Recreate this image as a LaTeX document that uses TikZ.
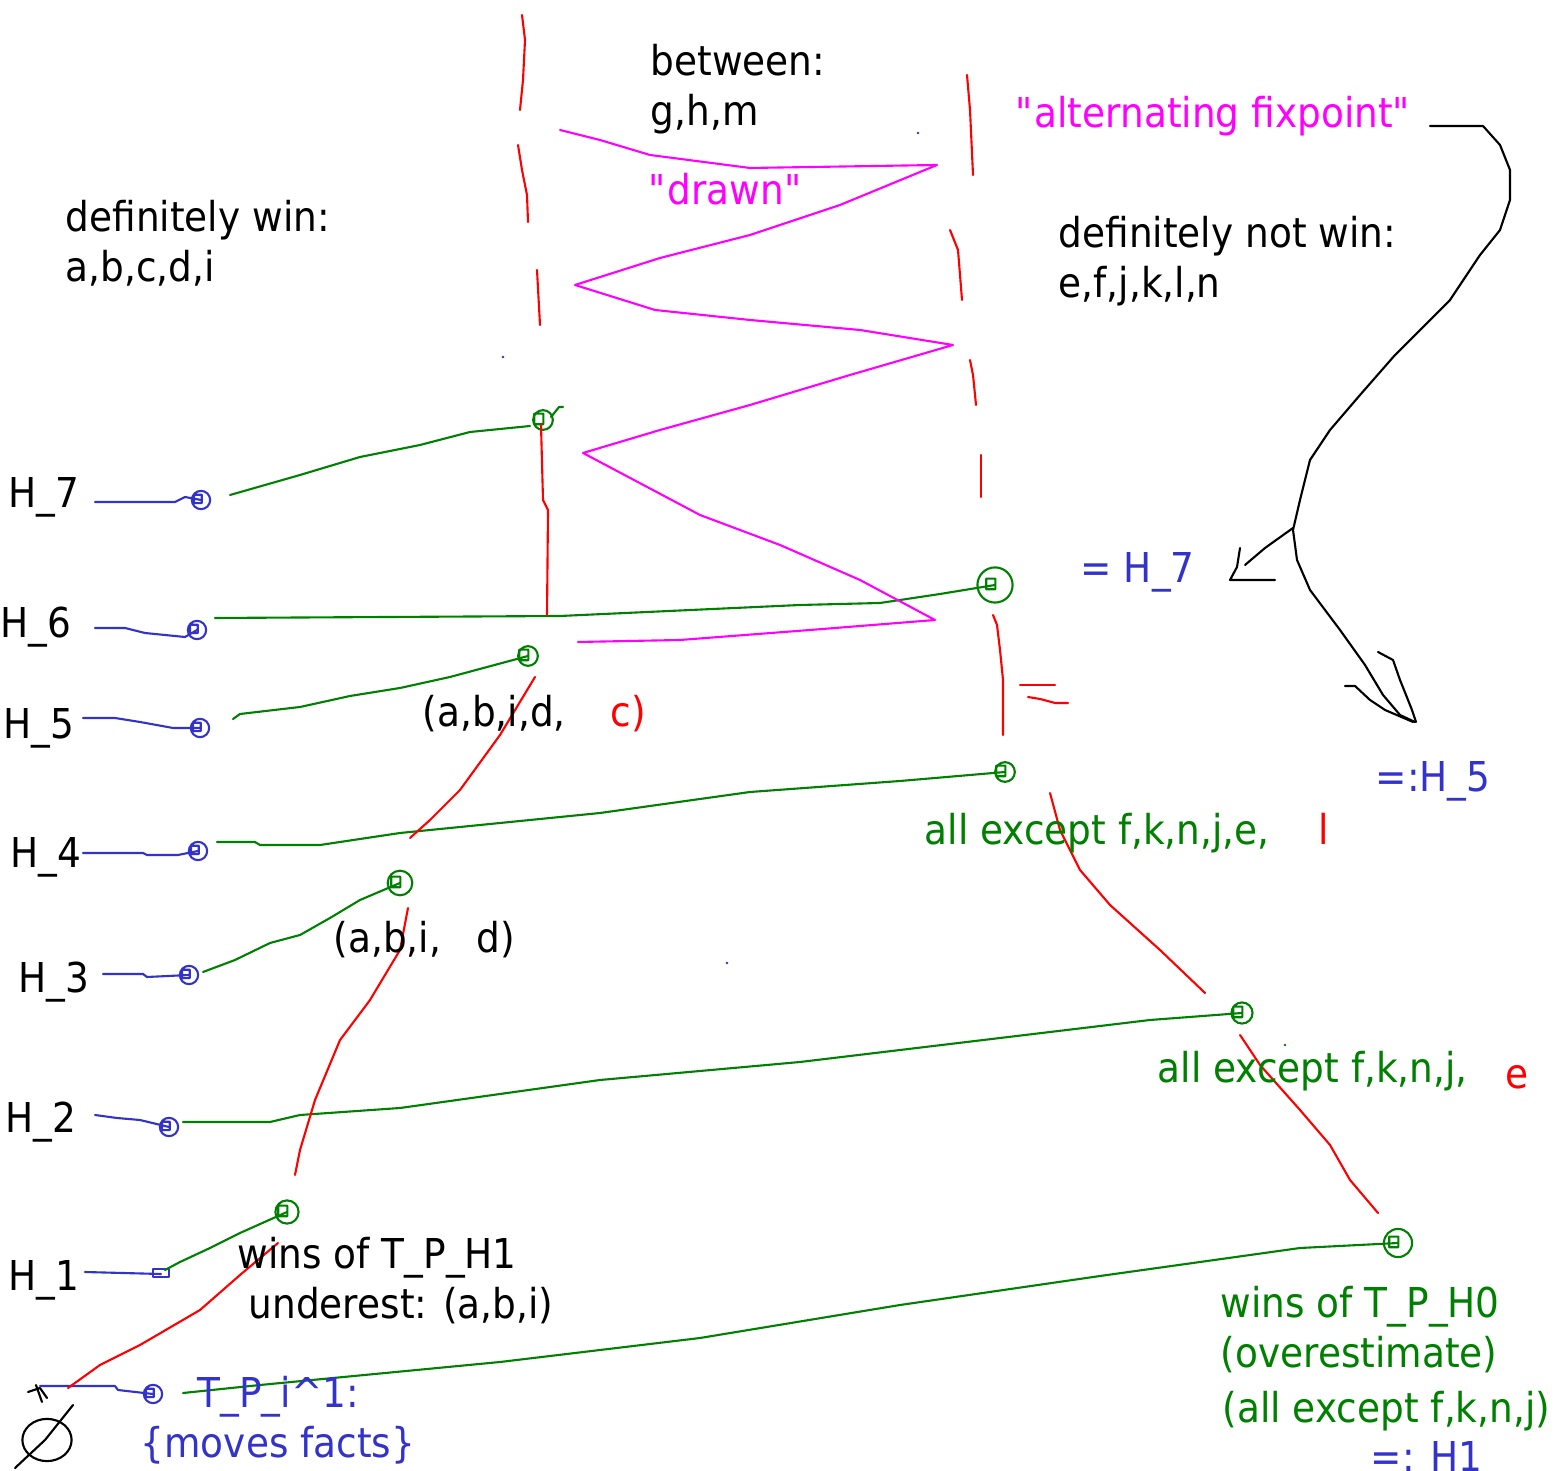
\documentclass[tikz,border=0pt]{standalone}
\usepackage{fontspec}
\setmainfont{DejaVu Sans}[FakeStretch=0.91]
\definecolor{penblue}{RGB}{51,51,204}
\definecolor{pengreen}{RGB}{0,128,0}
\definecolor{penred}{RGB}{255,0,0}
\definecolor{penpink}{RGB}{255,0,255}

\begin{document}
\begin{tikzpicture}[x=0.01cm, y=-0.01cm,
  pen/.style={line width=0.6pt, line join=round, line cap=round},
  txt/.style={anchor=base west, inner sep=0pt, font=\fontsize{11.7}{14}\selectfont}]
  \useasboundingbox (0,0) rectangle (1558,1471);

  % level labels and blue moves
  \node[txt] (h7) at (8,508) {H\_7};
  \node[txt] (h6) at (0,638) {H\_6};
  \node[txt] (h5) at (3,739) {H\_5};
  \node[txt] (h4) at (10,868) {H\_4};
  \node[txt] (h3) at (18,992) {H\_3};
  \node[txt] (h2) at (5,1132) {H\_2};
  \node[txt] (h1) at (8,1290) {H\_1};

  \coordinate (b7) at (201,500);  \coordinate (b6) at (197,630);
  \coordinate (b5) at (200,728);  \coordinate (b4) at (198,851);
  \coordinate (b3) at (189,975);  \coordinate (b2) at (169,1127);
  \coordinate (b1) at (161,1274); \coordinate (b0) at (153,1394);
  \draw[pen,penblue] (95,502) -- (175,502) -- (185,497) -- (b7);
  \draw[pen,penblue] (95,628) -- (125,628) -- (145,633) -- (185,637) -- (b6);
  \draw[pen,penblue] (83,718) -- (115,718) -- (140,722) -- (173,728) -- (b5);
  \draw[pen,penblue] (83,853) -- (143,853) -- (147,855) -- (178,855) -- (b4);
  \draw[pen,penblue] (103,974) -- (143,974) -- (147,977) -- (b3);
  \draw[pen,penblue] (95,1115) -- (117,1118) -- (140,1120) -- (b2);
  \draw[pen,penblue] (85,1272) -- (b1);
  \draw[pen,penblue] (40,1386) -- (115,1386) -- (118,1390) -- (b0);
  \foreach \b in {b7,b6,b5,b4,b3,b2,b0}
    \draw[pen,penblue] (\b) circle (2.6pt) ++(-2pt,1.5pt) rectangle ++(2.2pt,-2.4pt);
  \draw[pen,penblue] (b1) ++(-8,3) rectangle ++(16,-8);

  % green links between the steps
  \coordinate (g7) at (543,420);  \coordinate (g6) at (995,585);
  \coordinate (g5) at (528,656);  \coordinate (g4) at (1005,772);
  \coordinate (g3) at (400,883);  \coordinate (g2) at (1242,1013);
  \coordinate (g1) at (287,1212); \coordinate (g0) at (1398,1243);
  \draw[pen,pengreen] (230,495) -- (300,475) -- (360,457) -- (420,445) -- (470,432) -- (530,426);
  \draw[pen,pengreen] (215,618) -- (560,616) -- (800,605) -- (880,603) -- (940,594) -- (g6);
  \draw[pen,pengreen] (233,719) -- (240,714) -- (300,707) -- (350,696) -- (400,688) -- (450,677) -- (g5);
  \draw[pen,pengreen] (217,842) -- (255,842) -- (260,845) -- (320,845) -- (400,833) -- (600,813) -- (750,792) -- (900,781) -- (g4);
  \draw[pen,pengreen] (203,972) -- (235,960) -- (270,943) -- (300,935) -- (330,918) -- (360,900) -- (g3);
  \draw[pen,pengreen] (183,1122) -- (270,1122) -- (300,1115) -- (400,1108) -- (600,1080) -- (800,1062) -- (1000,1038) -- (1150,1020) -- (g2);
  \draw[pen,pengreen] (165,1270) -- (180,1262) -- (210,1248) -- (240,1233) -- (g1);
  \draw[pen,pengreen] (183,1393) -- (260,1385) -- (500,1362) -- (700,1338) -- (900,1305) -- (1100,1276) -- (1300,1248) -- (g0);
  \foreach \g/\r in {g7/2.8pt,g6/5pt,g5/2.8pt,g4/2.8pt,g3/3.5pt,g2/3pt,g1/3.3pt,g0/4pt}
    \draw[pen,pengreen] (\g) circle (\r) ++(-2.5pt,1.8pt) rectangle ++(2.6pt,-3pt);
  \draw[pen,pengreen] (g7) ++(8,-3) -- ++(8,-10) -- ++(4,0);

  % red boundaries
  \draw[pen,penred] (522,15) -- (525,40) -- (523,80) -- (520,110);
  \draw[pen,penred] (518,145) -- (522,170) -- (527,195) -- (528,222);
  \draw[pen,penred] (537,270) -- (540,325);
  \draw[pen,penred] (g7) ++(-2,5) -- (543,500) -- (548,510) -- (547,615);
  \draw[pen,penred] (967,75) -- (970,110) -- (973,175);
  \draw[pen,penred] (950,230) -- (958,250) -- (962,300);
  \draw[pen,penred] (970,360) -- (973,375) -- (976,405);
  \draw[pen,penred] (981,455) -- (981,497);
  \draw[pen,penred] (993,615) -- (997,625) -- (1000,650) -- (1003,680) -- (1003,735);
  \draw[pen,penred] (1020,685) -- (1055,685);
  \draw[pen,penred] (1028,697) -- (1040,699) -- (1055,703) -- (1068,703);
  \draw[pen,penred] (535,677) -- (500,735) -- (460,790) -- (430,820) -- (410,838);
  \draw[pen,penred] (408,908) -- (400,950) -- (370,1000) -- (340,1040) -- (315,1100) -- (300,1150) -- (295,1175);
  \draw[pen,penred] (278,1243) -- (240,1275) -- (200,1310) -- (140,1345) -- (100,1365) -- (68,1388);
  \draw[pen,penred] (1050,793) -- (1060,830) -- (1080,870) -- (1110,905) -- (1160,950) -- (1205,993);
  \draw[pen,penred] (1240,1035) -- (1260,1065) -- (1300,1110) -- (1330,1145) -- (1350,1180) -- (1378,1213);

  % "drawn" zigzag
  \draw[pen,penpink] (560,130) -- (600,140) -- (650,155) -- (750,168) -- (937,165)
    -- (840,205) -- (750,235) -- (660,258) -- (575,285)
    -- (655,310) -- (750,320) -- (860,330) -- (953,345)
    -- (850,375) -- (750,405) -- (660,430) -- (583,453)
    -- (700,515) -- (780,545) -- (860,580) -- (935,620)
    -- (810,630) -- (680,640) -- (578,642);

  % black arrow
  \draw[pen] (1430,126) -- (1483,126) -- (1500,145) -- (1510,170) -- (1510,200) -- (1500,230)
    -- (1480,255) -- (1450,300) -- (1420,330) -- (1395,355) -- (1360,395) -- (1330,430)
    -- (1310,460) -- (1300,500) -- (1293,530) -- (1297,560) -- (1310,590) -- (1340,630)
    -- (1365,665) -- (1383,695) -- (1400,715) -- (1415,722);
  \draw[pen] (1293,528) -- (1265,548) -- (1245,565);
  \draw[pen] (1240,548) -- (1237,567) -- (1230,580) -- (1275,580);
  \draw[pen] (1378,652) -- (1393,660) -- (1400,680) -- (1412,710) -- (1416,722);
  \draw[pen] (1345,686) -- (1355,686) -- (1370,700) -- (1385,710) -- (1413,722);

  % empty set scribble
  \draw[pen] (47,1440) ellipse (7pt and 6pt);
  \draw[pen] (15,1468) -- (45,1440) -- (73,1405);
  \draw[pen] (28,1392) -- (40,1388) -- (47,1398) (36,1385) -- (42,1402);

  \fill[penblue] (918,133) circle (0.4pt) (503,357) circle (0.4pt) (727,963) circle (0.4pt);
  \fill[pengreen] (1285,1045) circle (0.4pt);

  % texts
  \node[txt] (betw) at (650,76) {between:};
  \node[txt] (betw2) at (650,126) {g,h,m};
  \node[txt,penpink] (drawn) at (648,205) {\textquotedbl drawn\textquotedbl};
  \node[txt,penpink] (fix) at (1015,128) {\textquotedbl alternating fixpoint\textquotedbl};
  \node[txt] (win) at (65,232) {definitely win:};
  \node[txt] (win2) at (65,282) {a,b,c,d,i};
  \node[txt] (nwin) at (1058,248) {definitely not win:};
  \node[txt] (nwin2) at (1058,298) {e,f,j,k,l,n};
  \node[txt,penblue] (eq7) at (1080,583) {= H\_7};
  \node[txt,penblue] (eq5) at (1375,792) {=:H\_5};
  \node[txt] (s5) at (422,727) {(a,b,i,d,};
  \node[txt,penred] (s5c) at (610,727) {c)};
  \node[txt,pengreen] (s4) at (924,845) {all except f,k,n,j,e,};
  \node[txt,penred] (s4l) at (1318,845) {l};
  \node[txt] (s3) at (333,953) {(a,b,i,};
  \node[txt] (s3d) at (476,953) {d)};
  \node[txt,pengreen] (s2) at (1157,1082) {all except f,k,n,j,};
  \node[txt,penred] (s2e) at (1505,1088) {e};
  \node[txt] (s1) at (237,1268) {wins of T\_P\_H1};
  \node[txt] (s1b) at (248,1318) {underest: (a,b,i)};
  \node[txt,pengreen] (s0) at (1220,1317) {wins of T\_P\_H0};
  \node[txt,pengreen] (s0b) at (1220,1367) {(overestimate)};
  \node[txt,pengreen] (s0c) at (1222,1422) {(all except f,k,n,j)};
  \node[txt,penblue] (s0d) at (1370,1471) {=: H1};
  \node[txt,penblue] (tp) at (197,1407) {T\_P\_i\textasciicircum 1:};
  \node[txt,penblue] (tp2) at (140,1457) {\{moves facts\}};
\end{tikzpicture}
\end{document}
